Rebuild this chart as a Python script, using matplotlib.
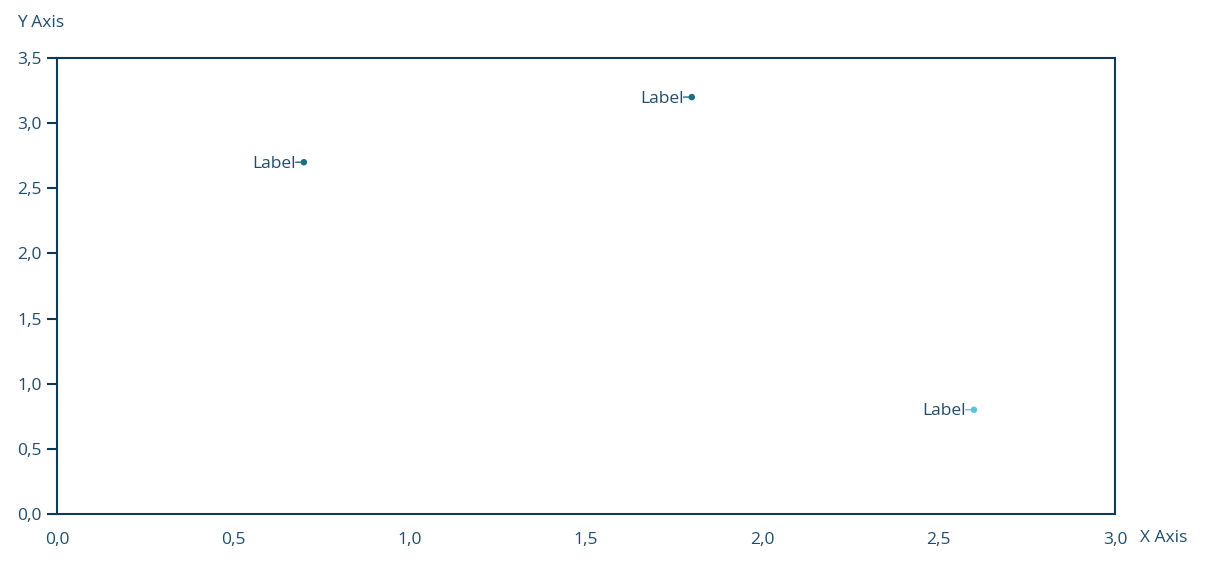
import matplotlib
matplotlib.use("Agg")
import matplotlib.pyplot as plt
from matplotlib.ticker import FuncFormatter

plt.rcParams['font.family'] = ['Open Sans', 'DejaVu Sans']

x_vals = [0.7, 1.8, 2.6]
y_vals = [2.7, 3.2, 0.8]
labels = ["Label", "Label", "Label"]
colors = ["#1b6f7f", "#1b6f7f", "#5ec3dc"]
x_ticks = [0.0, 0.5, 1.0, 1.5, 2.0, 2.5, 3.0]
y_ticks = [0.0, 0.5, 1.0, 1.5, 2.0, 2.5, 3.0, 3.5]

text_color = "#1f4d6b"
spine_color = "#0e3a5a"
fs = 12.5

fig = plt.figure(figsize=(12.05, 5.63), dpi=100)
ax = fig.add_axes([57/1205, 1-514/563, (1115-57)/1205, (514-58)/563])

ax.scatter(x_vals, y_vals, s=22, c=colors, zorder=3, linewidths=0)
for x, y, lab, c in zip(x_vals, y_vals, labels, colors):
    ax.annotate("", xy=(x, y), xytext=(-6, 0), textcoords="offset points",
                arrowprops=dict(arrowstyle="-", color=c, lw=1, shrinkA=0, shrinkB=0))
    ax.annotate(lab, xy=(x, y), xytext=(-6, -1.2), textcoords="offset points",
                ha="right", va="center", fontsize=fs, color=text_color)

ax.set_xlim(0, 3)
ax.set_ylim(0, 3.5)
ax.set_xticks(x_ticks)
ax.set_yticks(y_ticks)
fmt = FuncFormatter(lambda v, p: f"{v:.1f}".replace(".", ","))
ax.xaxis.set_major_formatter(fmt)
ax.yaxis.set_major_formatter(fmt)
ax.tick_params(axis="x", length=0, pad=13, labelsize=fs, labelcolor=text_color)
ax.tick_params(axis="y", length=7, width=1.5, color=spine_color, pad=4, labelsize=fs, labelcolor=text_color)
for s in ax.spines.values():
    s.set_color(spine_color)
    s.set_linewidth(1.5)

fig.text(17/1205, 1-23/563, "Y Axis", ha="left", va="center", fontsize=fs, color=text_color)
fig.text(1140/1205, 1-538/563, "X Axis", ha="left", va="center", fontsize=fs, color=text_color)

fig.savefig("out.png", dpi=100)
